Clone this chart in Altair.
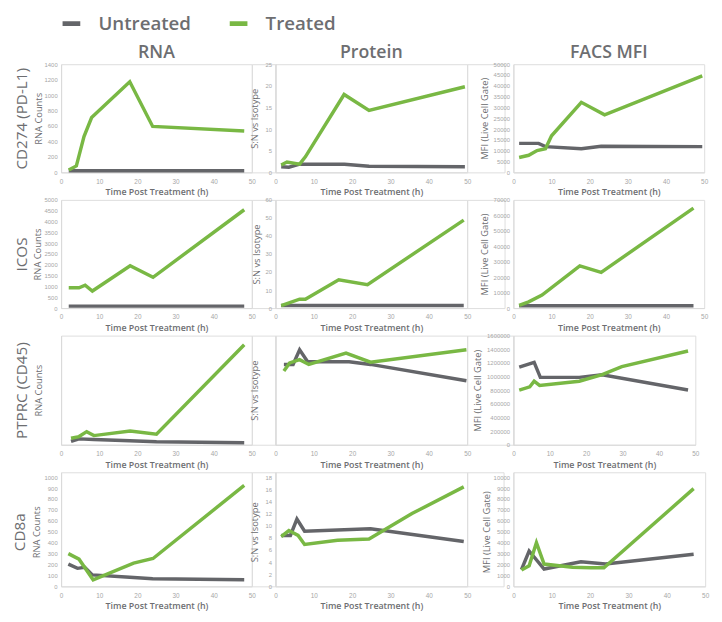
import altair as alt
import pandas as pd

GRAY = "#646569"
GREEN = "#79b844"
TEXT = "#6d6e71"
TICK = "#a6a6a6"
AXIS = "#d9d9d9"
FONT = "Open Sans"

SERIES = ["Untreated", "Treated"]
X_TICKS = [0, 10, 20, 30, 40, 50]
X_TITLE = "Time Post Treatment (h)"
COL_TITLES = ["RNA", "Protein", "FACS MFI"]
GENES = ["CD274 (PD-L1)", "ICOS", "PTPRC (CD45)", "CD8a"]
Y_TITLES = ["RNA Counts", "S:N vs Isotype", "MFI (Live Cell Gate)"]

# ---- CD274 (PD-L1) ----
cd274_rna_u_t = [2, 4, 6, 8, 18, 24, 48]
cd274_rna_u_v = [20, 20, 20, 20, 20, 20, 20]
cd274_rna_t_t = [2, 4, 6, 8, 18, 24, 48]
cd274_rna_t_v = [30, 84, 464, 709, 1173, 595, 536]
cd274_rna_ticks = [0, 200, 400, 600, 800, 1000, 1200, 1400]

cd274_prot_u_t = [1.5, 3.5, 6.3, 8, 18, 24.4, 49.4]
cd274_prot_u_v = [1.3, 1.2, 1.9, 1.9, 1.9, 1.4, 1.3]
cd274_prot_t_t = [1.5, 3.0, 6.3, 7.8, 17.9, 24.4, 49.4]
cd274_prot_t_v = [1.7, 2.4, 1.9, 3.6, 18.0, 14.3, 19.8]
cd274_prot_ticks = [0, 5, 10, 15, 20, 25]

cd274_facs_u_t = [1.5, 4, 6.6, 8.4, 17.8, 23, 49.5]
cd274_facs_u_v = [13400, 13400, 13400, 11900, 10900, 12100, 11900]
cd274_facs_t_t = [1.5, 4, 6.2, 8.4, 10, 17.8, 23.9, 49.5]
cd274_facs_t_v = [6900, 7900, 10100, 10900, 16900, 32400, 26600, 44600]
cd274_facs_ticks = [0, 5000, 10000, 15000, 20000, 25000, 30000, 35000, 40000, 45000, 50000]

# ---- ICOS ----
icos_rna_u_t = [2, 4, 6, 8, 18, 24, 48]
icos_rna_u_v = [90, 90, 90, 90, 90, 90, 90]
icos_rna_t_t = [2, 4.7, 6.3, 8.2, 18.1, 24.1, 48]
icos_rna_t_v = [939, 939, 1060, 788, 1955, 1424, 4545]
icos_rna_ticks = [0, 500, 1000, 1500, 2000, 2500, 3000, 3500, 4000, 4500, 5000]

icos_prot_u_t = [1.5, 6.3, 7.8, 18, 24, 49.1]
icos_prot_u_v = [1.4, 1.4, 1.4, 1.4, 1.4, 1.4]
icos_prot_t_t = [1.5, 6.3, 7.8, 16.5, 24, 49.1]
icos_prot_t_v = [1.4, 4.9, 4.9, 15.7, 13.0, 48.8]
icos_prot_ticks = [0, 10, 20, 30, 40, 50, 60]

icos_facs_u_t = [1.5, 4, 7.5, 17.4, 23, 47.2]
icos_facs_u_v = [1500, 1500, 1500, 1500, 1500, 1500]
icos_facs_t_t = [1.5, 4, 7.5, 17.4, 23, 47.2]
icos_facs_t_v = [1700, 4000, 8400, 27300, 23100, 64700]
icos_facs_ticks = [0, 10000, 20000, 30000, 40000, 50000, 60000, 70000]

# ---- PTPRC (CD45) ---- (RNA and Protein axes carry no printed scale)
ptprc_rna_u_t = [2.6, 4.7, 8.6, 18, 25, 48]
ptprc_rna_u_v = [3, 5.4, 4.8, 3.6, 2.7, 1.8]
ptprc_rna_t_t = [2.6, 4.7, 6.7, 8.6, 18.1, 25, 48]
ptprc_rna_t_v = [6, 7.5, 12, 8.4, 12.6, 9.6, 91.6]
ptprc_rna_ticks = [0, 100]

ptprc_prot_u_t = [2.2, 4.6, 6.3, 8.4, 19.2, 24.8, 49.8]
ptprc_prot_u_v = [73.6, 73.6, 87, 76, 76, 73.6, 58.6]
ptprc_prot_t_t = [2.2, 3.7, 6.3, 8.7, 18.4, 24.8, 49.8]
ptprc_prot_t_v = [67.6, 75, 78, 73.6, 84, 75.7, 87]
ptprc_prot_ticks = [0, 100]

ptprc_facs_u_t = [1.6, 5.7, 7.4, 18.1, 24.4, 48]
ptprc_facs_u_v = [1137000, 1208000, 988000, 988000, 1027000, 802000]
ptprc_facs_t_t = [1.6, 4.5, 5.7, 7.2, 18.1, 24.4, 29.8, 48]
ptprc_facs_t_v = [802000, 850000, 931000, 869000, 931000, 1027000, 1146000, 1375000]
ptprc_facs_ticks = [0, 200000, 400000, 600000, 800000, 1000000, 1200000, 1400000, 1600000]

# ---- CD8a ----
cd8a_rna_u_t = [1.9, 4.3, 6.2, 8.2, 18, 24, 48]
cd8a_rna_u_v = [204, 165, 174, 105, 84, 69, 60]
cd8a_rna_t_t = [1.9, 4.7, 8.4, 19, 24.1, 48]
cd8a_rna_t_v = [300, 249, 60, 213, 255, 925]
cd8a_rna_ticks = [0, 100, 200, 300, 400, 500, 600, 700, 800, 900, 1000]

cd8a_prot_u_t = [1.5, 3.9, 5.6, 7.6, 24.8, 49.1]
cd8a_prot_u_v = [8.4, 8.4, 11.1, 9.1, 9.5, 7.4]
cd8a_prot_t_t = [1.5, 3.5, 5.9, 7.6, 16.2, 24.4, 35.6, 49.1]
cd8a_prot_t_v = [8.2, 9.2, 8.4, 6.9, 7.6, 7.8, 12.0, 16.4]
cd8a_prot_ticks = [0, 2, 4, 6, 8, 10, 12, 14, 16, 18]

cd8a_facs_u_t = [2.1, 4.1, 8, 17.6, 24, 47]
cd8a_facs_u_v = [1530, 3240, 1590, 2250, 2040, 2940]
cd8a_facs_t_t = [2.1, 4.1, 6, 8, 15.4, 20.2, 23.6, 47]
cd8a_facs_t_v = [1500, 1890, 4000, 2040, 1750, 1700, 1700, 8950]
cd8a_facs_ticks = [0, 1000, 2000, 3000, 4000, 5000, 6000, 7000, 8000, 9000, 10000]


color_enc = alt.Color(
    "series:N",
    scale=alt.Scale(domain=SERIES, range=[GRAY, GREEN]),
    legend=alt.Legend(
        orient="none", legendX=-1, legendY=-51, direction="horizontal", title=None,
        symbolType="stroke", symbolStrokeWidth=5, symbolSize=324, clipHeight=19,
        labelFontSize=19, labelColor=TEXT, labelFont=FONT, labelFontWeight=600,
        columnPadding=36, labelOffset=16, padding=0,
    ),
)

x_axis = alt.Axis(
    values=X_TICKS, title=X_TITLE, grid=False, ticks=False, tickSize=0,
    labelFontSize=6.5, labelColor=TICK, labelPadding=6, labelFlush=False, labelOverlap=False,
    domainColor=AXIS, domainWidth=1,
    titleFontSize=9, titleColor=TEXT, titleFont=FONT, titleFontWeight=600,
    titleY=20, titleBaseline="middle",
)


def panel(ut, uv, tt, tv, yticks, ytitle, title_x, w, h, labels=True, top=None,
          gene=None, gene_x=None, extra_top=0, title_y=None):
    df = pd.DataFrame({
        "t": list(ut) + list(tt),
        "v": list(uv) + list(tv),
        "series": [SERIES[0]] * len(ut) + [SERIES[1]] * len(tt),
    })
    ymax = max(yticks)
    # extra_top: a few blank pixels above the top tick (used to drop the last row a little)
    ydom = [0, ymax * (h / (h - extra_top))]
    xenc = alt.X("t:Q", scale=alt.Scale(domain=[0, 50], nice=False), axis=x_axis)
    yaxis_kw = dict(
        values=yticks, title=ytitle, grid=False, ticks=False, tickSize=0, labels=labels,
        format="d",
        labelFontSize=6, labelColor=TICK, labelPadding=4, labelFlush=False, labelOverlap=False,
        domainColor=AXIS, domainWidth=1,
        titleFontSize=9.5, titleColor=TEXT, titleFont=FONT, titleFontWeight="normal",
        titleX=title_x, titleBaseline="middle",
    )
    if title_y is not None:
        yaxis_kw["titleY"] = title_y
    yenc = alt.Y("v:Q", scale=alt.Scale(domain=ydom, nice=False), axis=alt.Axis(**yaxis_kw))
    base = alt.Chart(df).mark_line(strokeWidth=3.5, strokeCap="butt").encode(x=xenc, y=yenc, color=color_enc)
    lines = alt.layer(
        base.transform_filter(alt.datum.series == SERIES[0]),
        base.transform_filter(alt.datum.series == SERIES[1]),
    )
    if gene:
        gax = dict(
            orient="left", title=gene, labels=False, ticks=False, domain=False, grid=False,
            titleFontSize=15.5, titleColor=TEXT, titleFont=FONT, titleFontWeight="normal",
            titleX=gene_x, titleBaseline="middle",
        )
        if title_y is not None:
            gax["titleY"] = title_y
        lab = alt.Chart(df).mark_line(opacity=0).encode(
            x=xenc, y=alt.Y("v:Q", axis=alt.Axis(**gax)),
        )
        ch = alt.layer(lines, lab).resolve_scale(y="independent")
    else:
        ch = lines
    ch = ch.properties(width=w, height=h)
    if top:
        ch = ch.properties(title=alt.TitleParams(
            top, anchor="middle", frame="group", fontSize=18, color=TEXT, font=FONT,
            fontWeight=600, offset=-1,
        ))
    return ch


def spacer(w, h):
    return alt.Chart(pd.DataFrame({"s": [0]})).mark_point(opacity=0).encode(
        x=alt.X("s:Q", axis=None), y=alt.Y("s:Q", axis=None)
    ).properties(width=w, height=h)


R4H = 116   # last row: 5 px of blank room above its top tick
R4TY = 60.5

cells = [
    panel(cd274_rna_u_t, cd274_rna_u_v, cd274_rna_t_t, cd274_rna_t_v, cd274_rna_ticks, Y_TITLES[0], -23, 194, 110,
          top=COL_TITLES[0], gene=GENES[0], gene_x=-40),
    spacer(24, 110),
    panel(cd274_prot_u_t, cd274_prot_u_v, cd274_prot_t_t, cd274_prot_t_v, cd274_prot_ticks, Y_TITLES[1], -21, 195, 110,
          top=COL_TITLES[1]),
    spacer(38, 110),
    panel(cd274_facs_u_t, cd274_facs_u_v, cd274_facs_t_t, cd274_facs_t_v, cd274_facs_ticks, Y_TITLES[2], -29, 194, 110,
          top=COL_TITLES[2]),

    panel(icos_rna_u_t, icos_rna_u_v, icos_rna_t_t, icos_rna_t_v, icos_rna_ticks, Y_TITLES[0], -24, 194, 110,
          gene=GENES[1], gene_x=-40),
    spacer(24, 110),
    panel(icos_prot_u_t, icos_prot_u_v, icos_prot_t_t, icos_prot_t_v, icos_prot_ticks, Y_TITLES[1], -19, 195, 110),
    spacer(38, 110),
    panel(icos_facs_u_t, icos_facs_u_v, icos_facs_t_t, icos_facs_t_v, icos_facs_ticks, Y_TITLES[2], -29, 194, 110),

    panel(ptprc_rna_u_t, ptprc_rna_u_v, ptprc_rna_t_t, ptprc_rna_t_v, ptprc_rna_ticks, Y_TITLES[0], -23, 194, 111,
          labels=False, gene=GENES[2], gene_x=-40),
    spacer(24, 111),
    panel(ptprc_prot_u_t, ptprc_prot_u_v, ptprc_prot_t_t, ptprc_prot_t_v, ptprc_prot_ticks, Y_TITLES[1], -21, 195, 111,
          labels=False),
    spacer(47, 111),
    panel(ptprc_facs_u_t, ptprc_facs_u_v, ptprc_facs_t_t, ptprc_facs_t_v, ptprc_facs_ticks, Y_TITLES[2], -36, 185, 111),

    panel(cd8a_rna_u_t, cd8a_rna_u_v, cd8a_rna_t_t, cd8a_rna_t_v, cd8a_rna_ticks, Y_TITLES[0], -25, 194, R4H,
          gene=GENES[3], gene_x=-42, extra_top=5, title_y=R4TY),
    spacer(24, R4H),
    panel(cd8a_prot_u_t, cd8a_prot_u_v, cd8a_prot_t_t, cd8a_prot_t_v, cd8a_prot_ticks, Y_TITLES[1], -21, 195, R4H,
          extra_top=5, title_y=R4TY),
    spacer(37, R4H),
    panel(cd8a_facs_u_t, cd8a_facs_u_v, cd8a_facs_t_t, cd8a_facs_t_v, cd8a_facs_ticks, Y_TITLES[2], -27, 195, R4H,
          extra_top=5, title_y=R4TY),
]

chart = alt.concat(
    *cells, columns=5, spacing={"row": 28, "column": 0}, bounds="flush",
    align={"row": "each", "column": "none"},
).properties(
    padding={"left": 4, "top": 1, "right": 4, "bottom": 0},
).configure_view(stroke=None).configure(background="white")

chart.save("out.html", embed_options={"renderer": "svg", "actions": False})
